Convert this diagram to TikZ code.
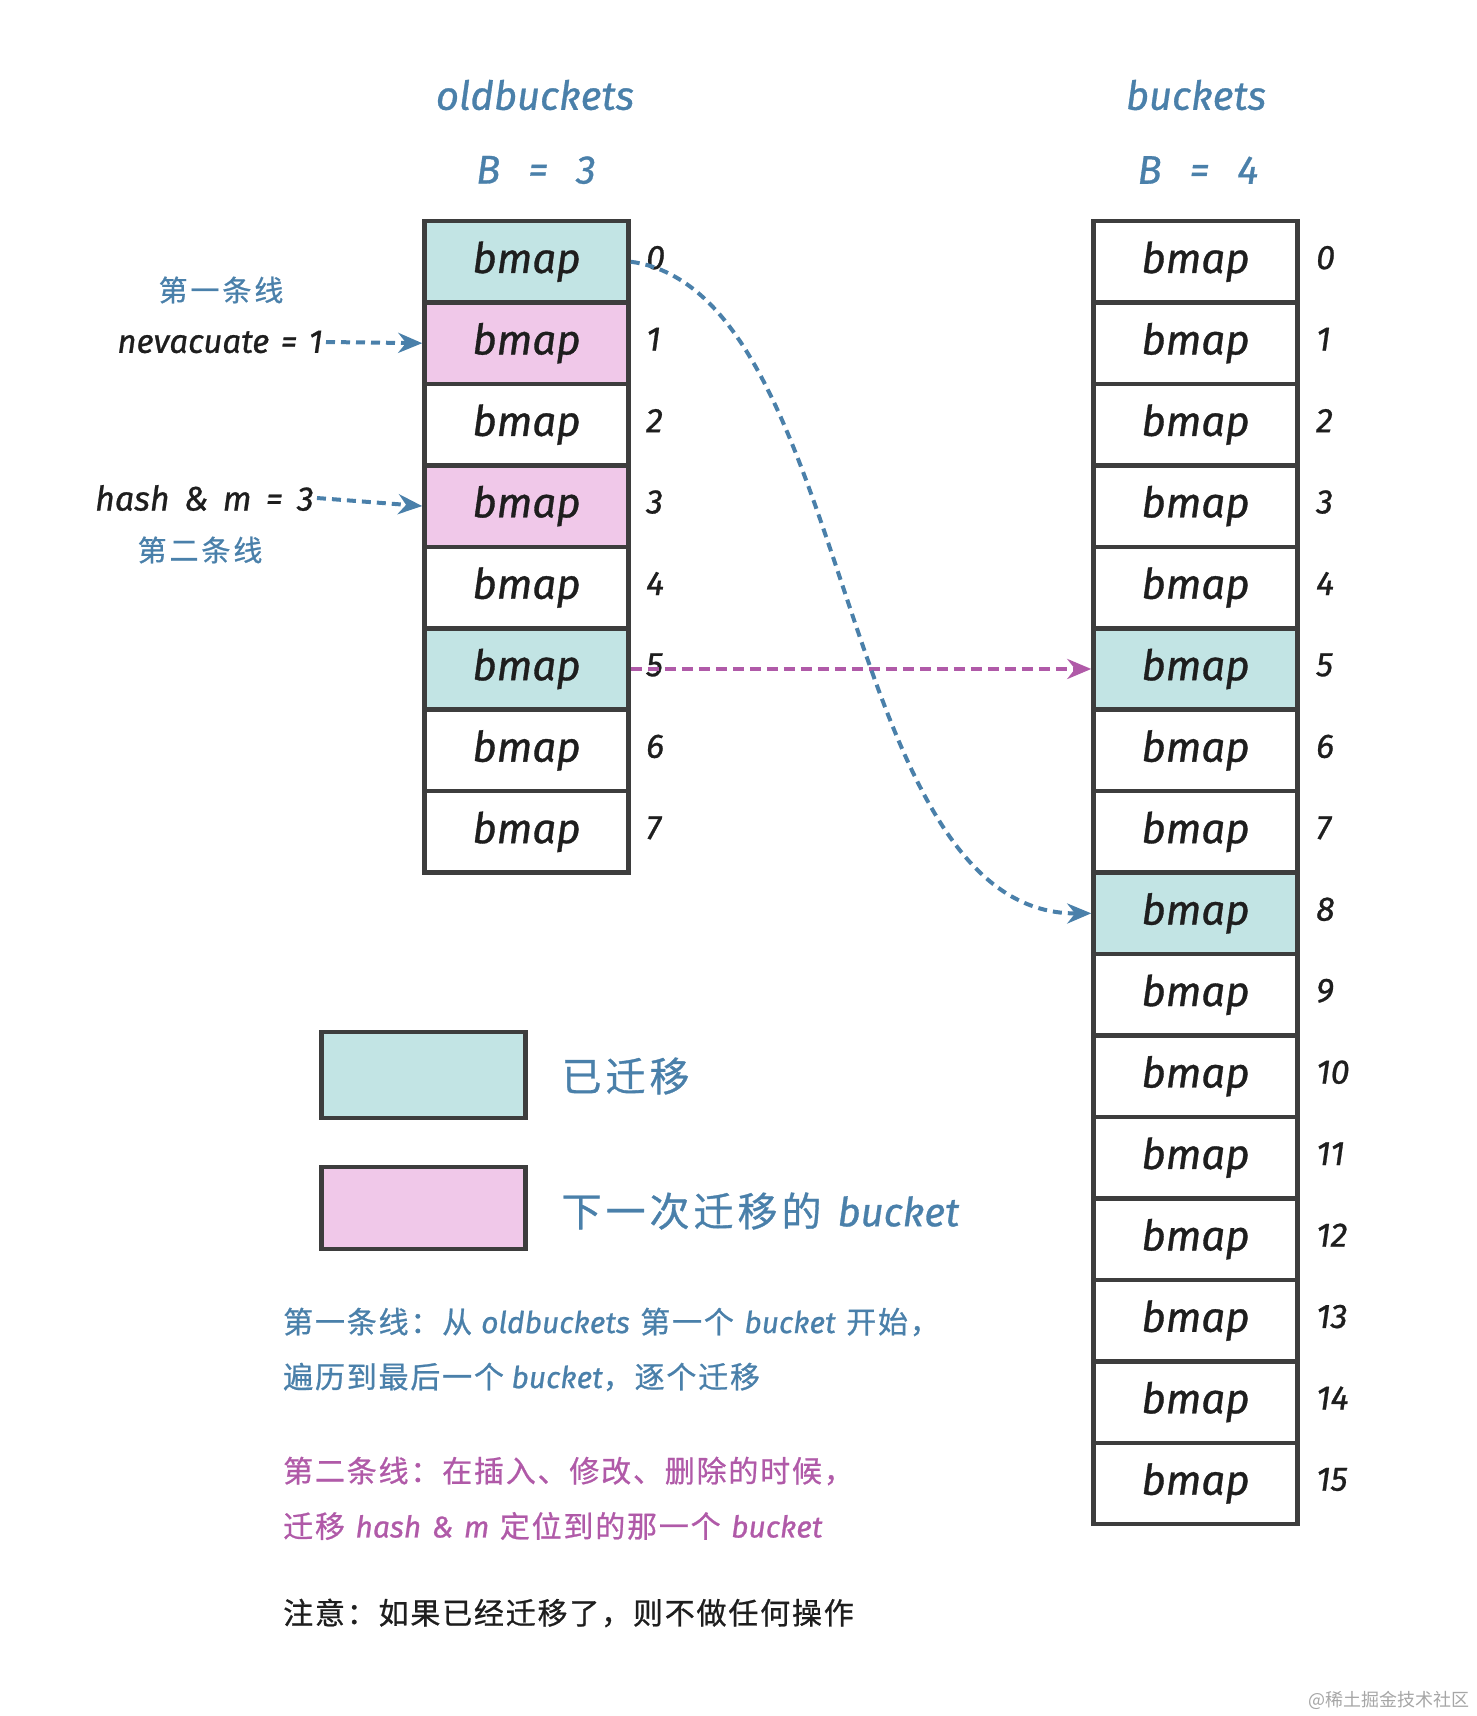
\documentclass[tikz,border=0pt]{standalone}
\usepackage{fontspec}
\setmainfont{Fira Sans}[ItalicFeatures={FakeBold=0.8}]
\newfontfamily\cjk{Noto Sans CJK SC}
\newfontfamily\cjknote[LetterSpace=6,FakeBold=0.8]{Noto Sans CJK SC}
\newfontfamily\cjkleg[LetterSpace=10,FakeBold=0.8]{Noto Sans CJK SC}
\usetikzlibrary{arrows.meta}
\definecolor{cteal}{HTML}{C2E4E4}
\definecolor{cpink}{HTML}{F0C8E9}
\definecolor{cblue}{HTML}{4A80AA}
\definecolor{cmag}{HTML}{B05AA8}
\definecolor{cstroke}{HTML}{3D3D3D}
\definecolor{cink}{HTML}{1E1E1E}
\newcommand\fsz[1]{\fontsize{#1}{#1}\selectfont}
\begin{document}
\begin{tikzpicture}[x=1pt,y=-1pt,
  cell/.style={draw=cstroke, line width=4.5pt, fill=white, minimum width=204pt,
    minimum height=81.45pt, inner sep=0pt, text=cink, font=\itshape\fsz{42}},
  done/.style={fill=cteal},
  nextb/.style={fill=cpink},
  idx/.style={anchor=west, inner sep=0pt, text=cink, font=\itshape\fsz{34}},
  title/.style={text=cblue, font=\itshape\fsz{40}},
  note/.style={anchor=west, inner sep=0pt, font=\fsz{30}},
  bluearrow/.style={draw=cblue, line width=4pt, dash pattern=on 9pt off 6pt,
    -{Stealth[length=24pt,width=20pt]}},
  magarrow/.style={draw=cmag, line width=4pt, dash pattern=on 11pt off 6pt,
    -{Stealth[length=24pt,width=20pt]}},
  leg/.style={draw=cstroke, line width=4.5pt, minimum width=204pt, inner sep=0pt}
]
\useasboundingbox (0,0) rectangle (1476,1716);

% titles
\node[title] (t1) at (535,95) {oldbuckets};
\node[title] (b1) at (536,170) {B\hspace{0.7em}=\hspace{0.7em}3};
\node[title] (t2) at (1196,95) {buckets};
\node[title] (b2) at (1198,170) {B\hspace{0.7em}=\hspace{0.7em}4};

% old buckets
\foreach \i in {0,...,7} {
  \node[cell] (o\i) at (526.5,{221+81.45*(\i+0.5)}) {bmap};
  \node[idx] (oi\i) at (646,{221+81.45*(\i+0.5)-4}) {\i};
}
\node[cell,done] at (o0) {bmap};
\node[cell,nextb] at (o1) {bmap};
\node[cell,nextb] at (o3) {bmap};
\node[cell,done] at (o5) {bmap};

% new buckets
\foreach \i in {0,...,15} {
  \node[cell] (n\i) at (1195.5,{221+81.45*(\i+0.5)}) {bmap};
  \node[idx] (ni\i) at (1316,{221+81.45*(\i+0.5)-4}) {\i};
}
\node[cell,done] at (n5) {bmap};
\node[cell,done] at (n8) {bmap};

% left labels
\node[text=cblue, font=\cjkleg\fsz{29}] (l1) at (221,290) {第一条线};
\node[anchor=east, inner sep=0pt, text=cink, font=\itshape\fsz{33}] (nev) at (323,342) {nevacuate\hspace{0.35em}=\hspace{0.35em}1};
\node[anchor=east, inner sep=0pt, text=cink, font=\itshape\fsz{34}] (hm) at (314,498) {hash\hspace{0.42em}\&\hspace{0.42em}m\hspace{0.42em}=\hspace{0.42em}3};
\node[text=cblue, font=\cjkleg\fsz{29}] (l2) at (200,550) {第二条线};

\draw[bluearrow] (nev.east) ++(3,0) coordinate (nevs) (nevs) -- (o1.west);
\draw[bluearrow] (hm.east) ++(3,0) coordinate (hms) (hms) -- (o3.west);

% migration arrows
\draw[magarrow] (o5.east) -- (n5.west);
\draw[bluearrow] (o0.east) .. controls (855,292) and (835,915) .. (n8.west);

% legend
\node[leg, fill=cteal, minimum height=86pt] (lg1) at (423.5,1075) {};
\node[leg, fill=cpink, minimum height=82pt] (lg2) at (423.5,1208) {};
\node[anchor=west, text=cblue, font=\cjkleg\fsz{40}] (lt1) at (558,1076) {已迁移};
\node[anchor=west, text=cblue, font=\fsz{40}] (lt2) at (558,1211) {{\cjkleg 下一次迁移的}\hspace{0.4em}{\itshape bucket}};

% notes
\node[note, text=cblue] (p1) at (283,1322) {{\cjknote 第一条线：从}\hspace{0.3em}{\itshape oldbuckets}\hspace{0.35em}{\cjknote 第一个}\hspace{0.35em}{\itshape bucket}\hspace{0.35em}{\cjknote 开始，}};
\node[note, text=cblue] (p2) at (283,1377) {{\cjknote 遍历到最后一个}\hspace{0.25em}{\itshape bucket}{\cjknote ，逐个迁移}};
\node[note, text=cmag] (p3) at (283,1471) {{\cjknote 第二条线：在插入、修改、删除的时候，}};
\node[note, text=cmag] (p4) at (283,1526) {{\cjknote 迁移}\hspace{0.35em}{\itshape hash\hspace{0.35em}\&\hspace{0.35em}m}\hspace{0.35em}{\cjknote 定位到的那一个}\hspace{0.35em}{\itshape bucket}};
\node[note, text=cink] (p5) at (283,1613) {{\cjknote 注意：如果已经迁移了，则不做任何操作}};

% watermark
\node[anchor=east, inner sep=0pt, text=black!35, font=\cjk\fsz{18}] (wm) at (1470,1700) {@稀土掘金技术社区};
\end{tikzpicture}
\end{document}
